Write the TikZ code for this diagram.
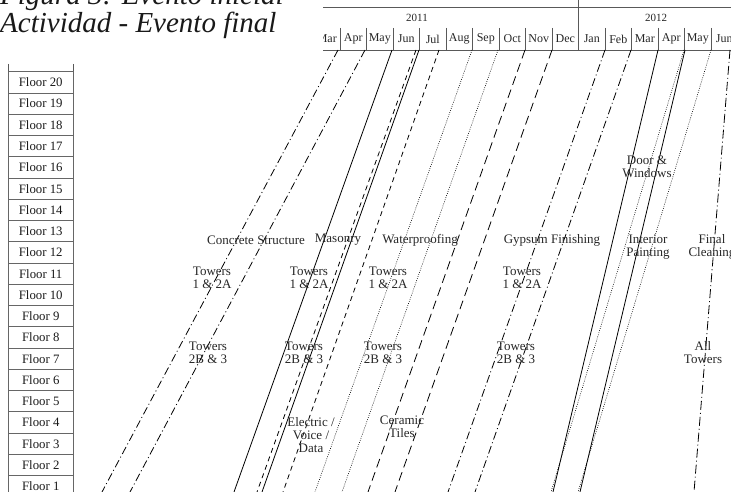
\documentclass[tikz,border=0pt]{standalone}
\usepackage{fontspec}
\setmainfont{Liberation Serif}
\begin{document}
\begin{tikzpicture}[x=1pt,y=-1pt,
  lbl/.style={font=\fontsize{13}{13}\selectfont, align=center, text=black!85, inner sep=0pt},
  floorcell/.style={draw=black!60, line width=0.8pt, minimum width=64.5pt, minimum height=21.26pt,
    inner sep=0pt, font=\fontsize{12.8}{13}\selectfont, text=black!90},
  monthcell/.style={minimum width=26.5pt, minimum height=22pt, inner sep=0pt,
    font=\fontsize{12}{13}\selectfont, text=black!85},
  grid line/.style={draw=black!65, line width=0.7pt},
  solidline/.style={draw=black, line width=0.8pt},
  dashdotline/.style={draw=black, line width=0.8pt, dash pattern=on 8pt off 3pt on 1pt off 3pt},
  longdashdot/.style={draw=black, line width=0.8pt, dash pattern=on 9pt off 3pt on 1pt off 3pt},
  shortdash/.style={draw=black, line width=0.8pt, dash pattern=on 5pt off 4pt},
  longdash/.style={draw=black, line width=0.8pt, dash pattern=on 9pt off 5pt},
  dotline/.style={draw=black, line width=0.6pt, dash pattern=on 0.8pt off 1.4pt}]

\useasboundingbox (0,0) rectangle (731,492);
\clip (0,0) rectangle (731,492);

% caption
\node[anchor=base west, inner sep=0pt, font=\fontsize{29}{30}\selectfont\itshape, text=black!90]
  (cap1) at (0,5) {Figura 3: Evento inicial};
\node[anchor=base west, inner sep=0pt, font=\fontsize{29}{30}\selectfont\itshape, text=black!90]
  (cap2) at (0,33) {Actividad - Evento final};

% floor column
\draw[grid line] (8.5,64) -- (8.5,71.7) (73,64) -- (73,71.7);
\foreach \k in {1,...,20}{
  \pgfmathsetmacro\yc{71.7+(20-\k)*21.26+10.63}
  \node[floorcell] (floor\k) at (40.75,\yc) {Floor \k};
}

% time header
\begin{scope}
  \clip (323,0) rectangle (731,60);
  \draw[grid line] (323,7) -- (731,7);
  \draw[grid line] (323,50) -- (731,50);
  \draw[grid line] (578.5,0) -- (578.5,50);
  \node[monthcell, font=\fontsize{11}{12}\selectfont] (y2011) at (417,17.5) {2011};
  \node[monthcell, font=\fontsize{11}{12}\selectfont] (y2012) at (656,17.5) {2012};
  \foreach \m [count=\i from 0] in {Mar,Apr,May,Jun,Jul,Aug,Sep,Oct,Nov,Dec,Jan,Feb,Mar,Apr,May,Jun}{
    \pgfmathsetmacro\xl{313.5+26.5*\i}
    \node[monthcell] (m\i) at (\xl+13.25,39) {\m};
    \draw[grid line] (\xl+26.5,28) -- (\xl+26.5,50);
  }
\end{scope}

% end points of the production lines
\coordinate (csA) at (338,50);  \coordinate (csa) at (102,492);
\coordinate (csB) at (365,50);  \coordinate (csb) at (130,492);
\coordinate (maA) at (392,50);  \coordinate (maa) at (234,492);
\coordinate (maB) at (419,50);  \coordinate (mab) at (262,492);
\coordinate (evA) at (416,50);  \coordinate (eva) at (257,492);
\coordinate (evB) at (439,50);  \coordinate (evb) at (283,492);
\coordinate (wpA) at (472,50);  \coordinate (wpa) at (315,492);
\coordinate (wpB) at (498,50);  \coordinate (wpb) at (342,492);
\coordinate (ctA) at (525,50);  \coordinate (cta) at (368,492);
\coordinate (ctB) at (552,50);  \coordinate (ctb) at (395,492);
\coordinate (gfA) at (605,50);  \coordinate (gfa) at (448,492);
\coordinate (gfB) at (631,50);  \coordinate (gfb) at (475,492);
\coordinate (ipA) at (658,50);  \coordinate (ipa) at (553,492);
\coordinate (ipB) at (685,50);  \coordinate (ipb) at (580,492);
\coordinate (dwA) at (684,50);  \coordinate (dwa) at (551,492);
\coordinate (dwB) at (711,50);  \coordinate (dwb) at (578,492);
\coordinate (fcA) at (730,50);  \coordinate (fca) at (694,492);

% concrete structure
\draw[dashdotline] (csA) -- (csa);
\draw[dashdotline] (csB) -- (csb);
% masonry
\draw[solidline] (maA) -- (maa);
\draw[solidline] (maB) -- (mab);
% electric / voice / data
\draw[shortdash] (evA) -- (eva);
\draw[shortdash] (evB) -- (evb);
% waterproofing
\draw[dotline] (wpA) -- (wpa);
\draw[dotline] (wpB) -- (wpb);
% ceramic tiles
\draw[longdash] (ctA) -- (cta);
\draw[longdash] (ctB) -- (ctb);
% gypsum finishing
\draw[dashdotline] (gfA) -- (gfa);
\draw[dashdotline] (gfB) -- (gfb);
% interior painting
\draw[solidline] (ipA) -- (ipa);
\draw[solidline] (ipB) -- (ipb);
% doors and windows
\draw[dotline] (dwA) -- (dwa);
\draw[dotline] (dwB) -- (dwb);
% final cleaning
\draw[longdashdot] (fcA) -- (fca);

% activity labels
\node[lbl] (lconc) at (256,240) {Concrete Structure};
\node[lbl] (lmas) at (338,240) {Masonry};
\node[lbl] (lwat) at (420,240) {Waterproofing};
\node[lbl] (lgyp) at (552,240) {Gypsum Finishing};
\node[lbl] (lint) at (648,247) {Interior\\Painting};
\node[lbl] (lfin) at (712,247) {Final\\Cleaning};
\node[lbl] (ldoor) at (647,167) {Door \&\\Windows};
\node[lbl] (lelec) at (311,435) {Electric /\\Voice /\\Data};
\node[lbl] (lcer) at (402,427) {Ceramic\\Tiles};

% tower groups
\node[lbl] (t1a) at (212,278) {Towers\\1 \& 2A};
\node[lbl] (t1b) at (309,278) {Towers\\1 \& 2A};
\node[lbl] (t1c) at (388,278) {Towers\\1 \& 2A};
\node[lbl] (t1d) at (522,278) {Towers\\1 \& 2A};
\node[lbl] (t2a) at (208,353) {Towers\\2B \& 3};
\node[lbl] (t2b) at (304,353) {Towers\\2B \& 3};
\node[lbl] (t2c) at (383,353) {Towers\\2B \& 3};
\node[lbl] (t2d) at (516,353) {Towers\\2B \& 3};
\node[lbl] (tall) at (703,353) {All\\Towers};

\end{tikzpicture}
\end{document}
